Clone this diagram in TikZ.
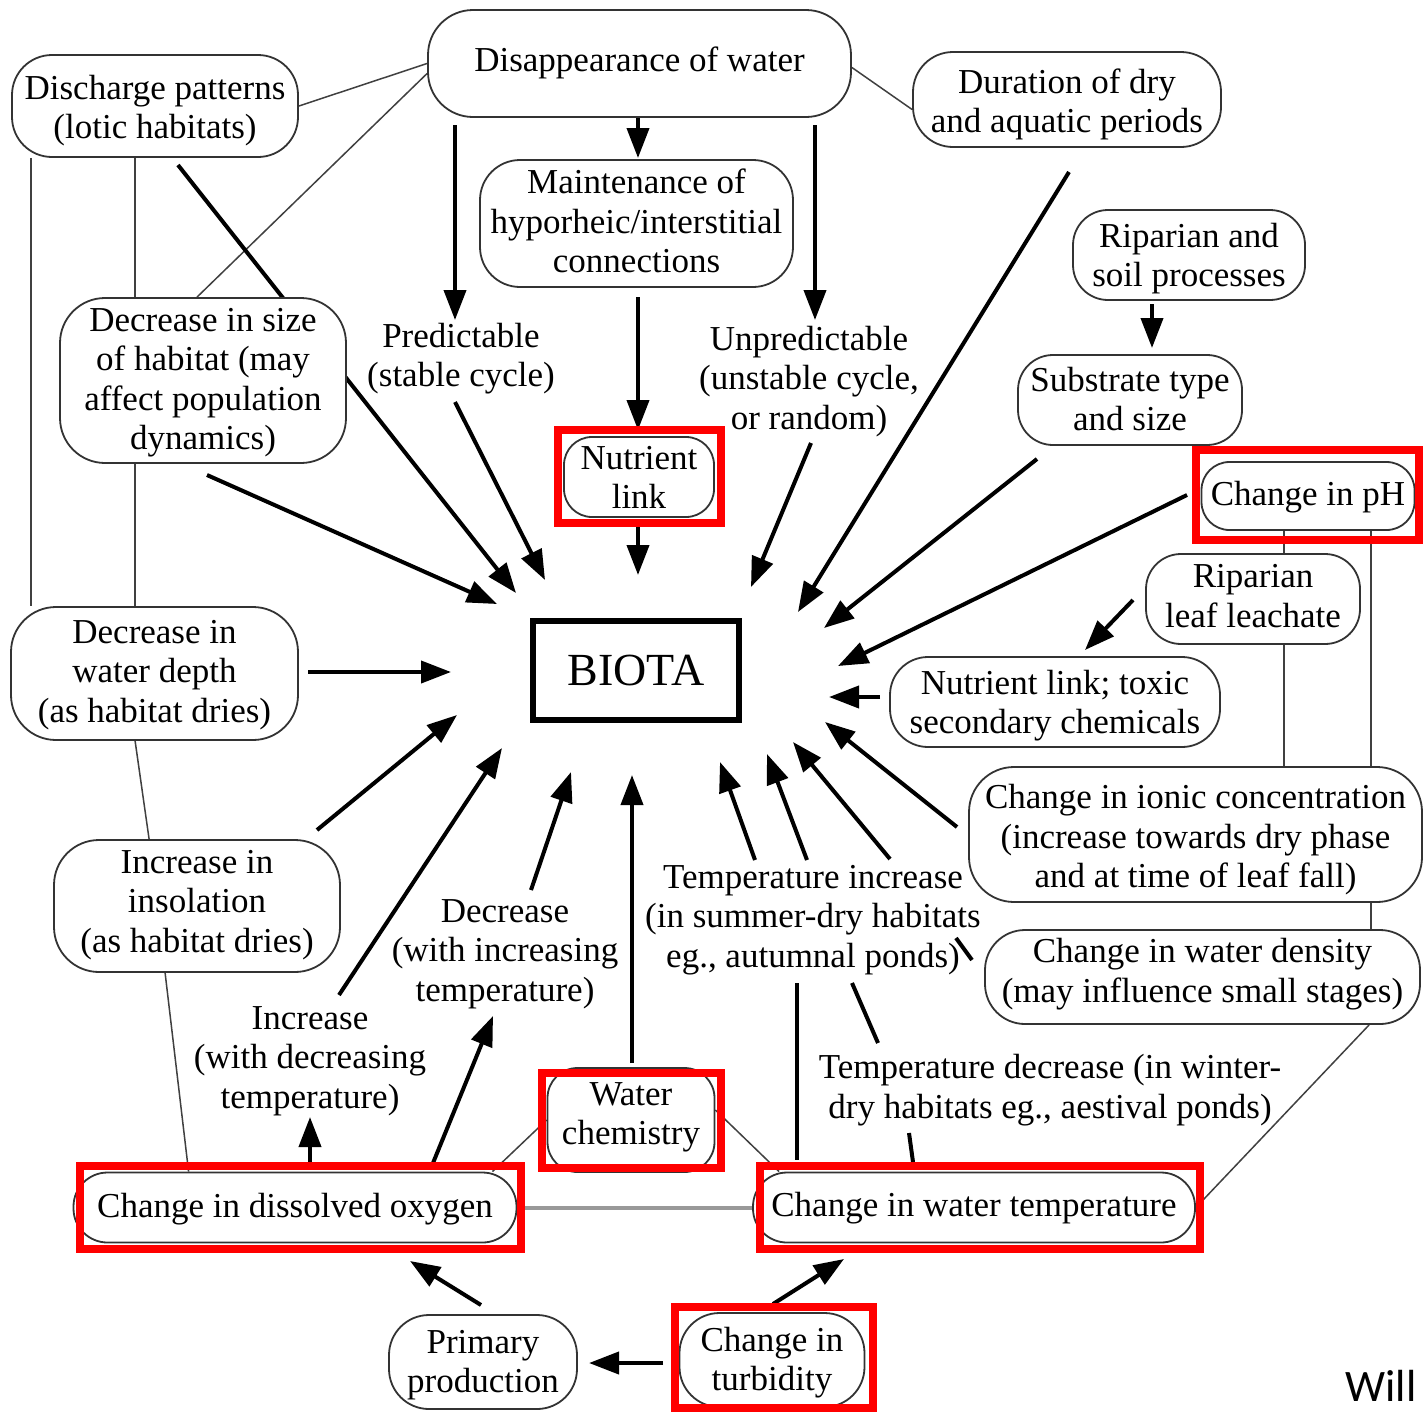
\documentclass[tikz,border=0pt]{standalone}
\usepackage{fontspec}
\setmainfont{Liberation Serif}
\newfontfamily\willfont{Carlito}
\usetikzlibrary{arrows.meta,calc}
\pgfdeclarelayer{background}
\pgfsetlayers{background,main}
% text block whose first baseline lies #1 below the node centre (negative = above)
\newcommand\tb[2]{\raisebox{#1}[0pt][0pt]{\begin{tabular}[t]{@{}c@{}}#2\end{tabular}}}
\begin{document}
\begin{tikzpicture}[x=1pt,y=-1pt,
 every node/.style={inner sep=0pt, font=\fontsize{35}{39.5}\selectfont},
 box/.style={draw=black!80, line width=1.8pt, fill=white, rounded corners=#1},
 box/.default=38pt,
 sz/.style 2 args={minimum width=#1pt, minimum height=#2pt},
 thinln/.style={draw=black!75, line width=1.5pt},
 grayln/.style={draw=black!40, line width=4pt},
 heavy/.style={line width=4pt},
 arr/.style={line width=4pt, -{Triangle[length=30pt,width=22pt]}},
 hilite/.style={draw=red, line width=7.5pt},
]
\useasboundingbox (0,0) rectangle (1424,1411);

% ---------- nodes ----------
\node[box=45pt, sz={423}{107}] (disap) at (639.5,63.5) {\tb{-7.5pt}{Disappearance of water}};
\node[box=40pt, sz={286}{102}] (disch) at (155,106) {\tb{7pt}{Discharge patterns\\(lotic habitats)}};
\node[box=40pt, sz={308}{95}] (durat) at (1067,99.5) {\tb{6.5pt}{Duration of dry\\and aquatic periods}};
\node[box=40pt, sz={313}{127}] (maint) at (636.5,223.5) {\tb{30pt}{Maintenance of\\hyporheic/interstitial\\connections}};
\node[box=45pt, sz={286}{165}] (decsize) at (203,380.5) {\tb{49.5pt}{Decrease in size\\of habitat (may\\affect population\\dynamics)}};
\node (pred) at (461,347) {\tb{0pt}{Predictable\\(stable cycle)}};
\node (unpred) at (809,350) {\tb{0pt}{Unpredictable\\(unstable cycle,\\or random)}};
\node[box=28pt, sz={150}{80}] (nutr) at (639,477) {\tb{8pt}{Nutrient\\link}};
\node[box=35pt, sz={232}{90}] (ripsoil) at (1189,255) {\tb{8pt}{Riparian and\\soil processes}};
\node[box=35pt, sz={224}{90}] (subst) at (1130,400) {\tb{9pt}{Substrate type\\and size}};
\node[box=28pt, sz={213}{68}] (ph) at (1308,496) {\tb{-9pt}{Change in pH}};
\node[box=35pt, sz={214}{90}] (ripleaf) at (1253,599) {\tb{11.5pt}{Riparian\\leaf leachate}};
\node[box=38pt, sz={330}{90}] (nuttox) at (1055,702) {\tb{8pt}{Nutrient link; toxic\\secondary chemicals}};
\node[draw=black, line width=5.5pt, sz={206}{99}, font=\fontsize{46}{50}\selectfont] (biota) at (636,670.5) {\tb{-14.5pt}{BIOTA}};
\node[box=45pt, sz={287}{133}] (depth) at (154.5,673.5) {\tb{30.5pt}{Decrease in\\water depth\\(as habitat dries)}};
\node[box=45pt, sz={453}{135}] (ionic) at (1195.5,834.5) {\tb{26pt}{Change in ionic concentration\\(increase towards dry phase\\and at time of leaf fall)}};
\node[box=45pt, sz={286}{132}] (insol) at (197,906) {\tb{33pt}{Increase in\\insolation\\(as habitat dries)}};
\node (tempinc) at (813,888) {\tb{0pt}{Temperature increase\\(in summer-dry habitats\\eg., autumnal ponds)}};
\node[box=40pt, sz={435}{94}] (density) at (1202.5,977) {\tb{14.5pt}{Change in water density\\(may influence small stages)}};
\node (decr) at (505,922) {\tb{0pt}{Decrease\\(with increasing\\temperature)}};
\node (incr) at (310,1029) {\tb{0pt}{Increase\\(with decreasing\\temperature)}};
\node (tempdec) at (1050,1078.5) {\tb{0pt}{Temperature decrease (in winter-\\dry habitats eg., aestival ponds)}};
\node[box=30pt, sz={167}{104}] (chem) at (631,1120) {\tb{15pt}{Water\\chemistry}};
\node[box=34pt, sz={443}{70}] (dox) at (295,1207.5) {\tb{-9.5pt}{Change in dissolved oxygen}};
\node[box=34pt, sz={442}{70}] (wtemp) at (974,1207.5) {\tb{-8.5pt}{Change in water temperature}};
\node[box=40pt, sz={188}{94}] (prim) at (483,1362) {\tb{9pt}{Primary\\production}};
\node[box=40pt, sz={185}{94}] (turb) at (772,1360) {\tb{9pt}{Change in\\turbidity}};
\node[font=\willfont\fontsize{45}{50}\selectfont] (will) at (1381,1401) {\tb{0pt}{Will}};

% ---------- highlight frames ----------
\draw[hilite] (558,430) rectangle (721,523);
\draw[hilite] (1196,450) rectangle (1419,540);
\draw[hilite] (542,1073) rectangle (721,1168);
\draw[hilite] (80,1166) rectangle (521,1249);
\draw[hilite] (760,1166) rectangle (1200,1249);
\draw[hilite] (675,1307) rectangle (873,1408);

% ---------- connector ends ----------
\coordinate (a1s) at (455,125);  \coordinate (a1e) at (455,320);
\coordinate (a2s) at (638,118);  \coordinate (a2e) at (638,158);
\coordinate (a3s) at (815,125);  \coordinate (a3e) at (815,320);
\coordinate (a4s) at (638,297);  \coordinate (a4e) at (638,430);
\coordinate (a5s) at (638,527);  \coordinate (a5e) at (638,575);
\coordinate (a6s) at (178,165);  \coordinate (a6e) at (516,593);
\coordinate (a7s) at (455,402);  \coordinate (a7e) at (545,580);
\coordinate (a8s) at (207,475);  \coordinate (a8e) at (497,604);
\coordinate (a9s) at (811,443);  \coordinate (a9e) at (751,587);
\coordinate (a10s) at (1069,172); \coordinate (a10e) at (798,612);
\coordinate (a11s) at (1037,459); \coordinate (a11e) at (824,628);
\coordinate (a12s) at (1187,495); \coordinate (a12e) at (838,666);
\coordinate (a13s) at (1133,600); \coordinate (a13e) at (1085,650);
\coordinate (a14s) at (880,697);  \coordinate (a14e) at (829,697);
\coordinate (a15s) at (957,827);  \coordinate (a15e) at (825,722);
\coordinate (a16s) at (755,860);  \coordinate (a16e) at (720,762);
\coordinate (a17s) at (807,860);  \coordinate (a17e) at (767,754);
\coordinate (a18s) at (890,859);  \coordinate (a18e) at (793,742);
\coordinate (a19s) at (308,672);  \coordinate (a19e) at (451,672);
\coordinate (a20s) at (317,830);  \coordinate (a20e) at (457,715);
\coordinate (a21s) at (339,995);  \coordinate (a21e) at (502,748);
\coordinate (a22s) at (531,890);  \coordinate (a22e) at (571,772);
\coordinate (a23s) at (632,1063); \coordinate (a23e) at (632,775);
\coordinate (a24s) at (310,1165); \coordinate (a24e) at (310,1117);
\coordinate (a25s) at (433,1163); \coordinate (a25e) at (493,1016);
\coordinate (a26s) at (481,1305); \coordinate (a26e) at (410,1261);
\coordinate (a27s) at (663,1363); \coordinate (a27e) at (589,1363);
\coordinate (a28s) at (773,1304); \coordinate (a28e) at (844,1259);
\coordinate (a29s) at (1152,304); \coordinate (a29e) at (1152,348);
\coordinate (l1s) at (797,983);   \coordinate (l1e) at (797,1160);
\coordinate (l2s) at (852,983);   \coordinate (l2e) at (878,1043);
\coordinate (l3s) at (956,938);   \coordinate (l3e) at (972,960);
\coordinate (l4s) at (909,1133);  \coordinate (l4e) at (913,1162);

\begin{pgfonlayer}{background}
% thin links
\draw[thinln] (disch.east) -- (disap.west);
\draw[thinln] ($(disap.west)+(0,10)$) -- ($(decsize.north)+(-6,0)$);
\draw[thinln] ($(disap.east)+(0,4)$) -- ($(durat.west)+(0,10)$);
\draw[thinln] ($(disch.south west)+(20,0)$) -- ($(depth.north west)+(21,0)$);
\draw[thinln] ($(disch.south west)+(124,0)$) -- ($(decsize.north west)+(76,0)$);
\draw[thinln] ($(decsize.south west)+(76,0)$) -- ($(depth.north west)+(125,0)$);
\draw[thinln] ($(depth.south west)+(125,0)$) -- ($(insol.north west)+(96,0)$);
\draw[thinln] ($(insol.south west)+(112,0)$) -- ($(dox.north west)+(116,0)$);
\draw[thinln] ($(ph.south west)+(83.5,0)$) -- ($(ripleaf.north west)+(139,0)$);
\draw[thinln] ($(ripleaf.south west)+(139,0)$) -- ($(ionic.north west)+(316,0)$);
\draw[thinln] ($(ph.south west)+(170.5,0)$) -- ($(ionic.north west)+(403,0)$);
\draw[thinln] ($(ionic.south west)+(403,0)$) -- ($(density.north west)+(387,0)$);
\draw[thinln] ($(density.south west)+(385,0)$) -- (wtemp.east);
\draw[thinln] ($(dox.north east)+(-25,0)$) -- (chem.west);
\draw[thinln] ($(chem.east)+(0,-10)$) -- ($(wtemp.north west)+(27,0)$);
\draw[grayln] (dox.east) -- (wtemp.west);
% heavy arrows
\foreach \i in {1,...,29} { \draw[arr] (a\i s) -- (a\i e); }
\foreach \i in {1,...,4} { \draw[heavy] (l\i s) -- (l\i e); }
\end{pgfonlayer}
\end{tikzpicture}
\end{document}
